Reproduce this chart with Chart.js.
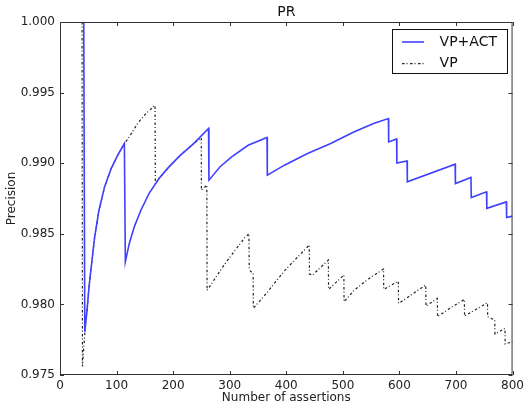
<!DOCTYPE html>
<html><head><meta charset="utf-8">
<script src="https://cdn.jsdelivr.net/npm/chart.js@4/dist/chart.umd.min.js"></script>
<style>html,body{margin:0;padding:0;background:#fff;}#wrap{width:528px;height:414px;}</style>
</head><body><div id="wrap"><canvas id="c" width="528" height="414"></canvas></div>
<script>
const chartTitle = 'PR';
const xAxisTitle = 'Number of assertions';
const yAxisTitle = 'Precision';
const seriesNames = ['VP+ACT', 'VP'];
const xTicks = [0, 100, 200, 300, 400, 500, 600, 700, 800];
const yTicks = [0.975, 0.980, 0.985, 0.990, 0.995, 1.000];

// VP+ACT
const actX = [42, 43.8, 47.8, 51.3, 55.4, 61.3, 68.9, 78.8, 90.4, 102.1, 113.8, 115.5,
  122.5, 131.3, 143, 157.5, 175, 192.6, 213, 236.3, 262.6, 263.3,
  283, 303.4, 332.6, 366, 366.5, 396.8, 437.6, 478.5, 519.4, 554.3, 580.6, 581, 595, 595.5, 613.5, 614,
  698.5, 699, 726.5, 727, 754, 754.5, 789, 789.5, 800];
const actY = [1.0, 0.97806, 0.9796, 0.98125, 0.9827, 0.98479, 0.98667, 0.98832, 0.98962, 0.99057, 0.99139, 0.98302,
  0.98432, 0.98549, 0.98667, 0.98786, 0.98892, 0.98974, 0.99057, 0.99139, 0.99246, 0.9888,
  0.98975, 0.99045, 0.99127, 0.99182, 0.98915, 0.98986, 0.99069, 0.99139, 0.99221, 0.99281, 0.99316, 0.99151, 0.99172, 0.99002, 0.99016, 0.98868,
  0.98993, 0.98856, 0.98899, 0.98757, 0.98797, 0.98680, 0.98726, 0.98616, 0.98625];

// VP
const vpX = [39, 39.7, 44.3, 47.8, 51.3, 55.4, 61.3, 68.9, 78.8, 90.4, 102.1, 113.8, 122.5, 137, 151.7, 168, 168.5,
  175, 192.6, 213, 236.3, 249.7, 250, 259.6, 260,
  268.4, 283, 296.4, 312, 326.8, 334, 334.5, 341.4, 341.8, 364.7, 396.8, 420, 440.6, 441, 446.4, 474.4, 474.8, 501.8, 502.2,
  520, 545, 571.9, 572.3, 598.1, 598.5, 620, 646.5, 647, 667, 667.4, 690, 714.8, 715.2, 755.7, 756, 768.5, 769, 786.6, 787, 800];
const vpY = [1.0, 0.9756, 0.9782, 0.9796, 0.98125, 0.9827, 0.98479, 0.98667, 0.98832, 0.98962, 0.99057, 0.99139, 0.99186, 0.99281, 0.99351, 0.9941, 0.9885,
  0.98892, 0.98974, 0.99057, 0.99139, 0.9918, 0.98809, 0.98844, 0.9810,
  0.98149, 0.98238, 0.98314, 0.98396, 0.98474, 0.9850, 0.98243, 0.9822, 0.97972, 0.98078, 0.98238, 0.98335, 0.98420, 0.98215, 0.98208, 0.98314, 0.98106, 0.98208, 0.98019,
  0.9810, 0.9818, 0.98250, 0.98106, 0.98165, 0.98007, 0.98065, 0.98137, 0.97988, 0.98042, 0.97913, 0.97975, 0.98035, 0.97917, 0.98012, 0.97913, 0.97889, 0.97790, 0.97830, 0.97719, 0.97736];

const FONT = "'DejaVu Sans', sans-serif";
const toPts = (xs, ys) => xs.map((x, i) => ({x: x, y: ys[i]}));

const styles = [
  {color: '#4040ff', width: 1.6, dash: []},
  {color: '#222222', width: 1.2, dash: [2.5, 2, 1, 2.5]}
];

const framePlugin = {
  id: 'frame',
  afterDatasetsDraw(chart) {
    const ctx = chart.ctx, a = chart.chartArea;
    const xs = chart.scales.x, ys = chart.scales.y;
    ctx.save();
    ctx.strokeStyle = '#333';
    ctx.lineWidth = 1;
    ctx.strokeRect(a.left + 0.5, a.top + 0.5, a.right - a.left - 1, a.bottom - a.top - 1);
    ctx.beginPath();
    xTicks.forEach(v => {
      const px = Math.round(xs.getPixelForValue(v)) + 0.5;
      ctx.moveTo(px, a.bottom); ctx.lineTo(px, a.bottom - 4);
      ctx.moveTo(px, a.top); ctx.lineTo(px, a.top + 4);
    });
    yTicks.forEach(v => {
      const py = Math.round(ys.getPixelForValue(v)) + 0.5;
      ctx.moveTo(a.left, py); ctx.lineTo(a.left + 4, py);
      ctx.moveTo(a.right, py); ctx.lineTo(a.right - 4, py);
    });
    ctx.stroke();
    // title
    ctx.fillStyle = '#111';
    ctx.font = '14px ' + FONT;
    ctx.textAlign = 'center';
    ctx.textBaseline = 'middle';
    ctx.fillText(chartTitle, (a.left + a.right) / 2, 12);
    // legend
    const bw = 115, bh = 44;
    const bx = a.right - 6 - bw, by = a.top + 6.5;
    ctx.fillStyle = '#fff';
    ctx.fillRect(bx, by, bw, bh);
    ctx.strokeStyle = '#111';
    ctx.lineWidth = 1;
    ctx.strokeRect(Math.round(bx) + 0.5, Math.round(by) + 0.5, bw, bh);
    ctx.font = '14px ' + FONT;
    ctx.textAlign = 'left';
    seriesNames.forEach((name, i) => {
      const ly = by + 13.5 + i * 21.6;
      ctx.strokeStyle = styles[i].color;
      ctx.lineWidth = styles[i].width;
      ctx.setLineDash(styles[i].dash);
      ctx.beginPath();
      ctx.moveTo(bx + 10.5, ly); ctx.lineTo(bx + 32.5, ly);
      ctx.stroke();
      ctx.setLineDash([]);
      ctx.fillStyle = '#111';
      ctx.fillText(name, bx + 48, ly);
    });
    ctx.restore();
  }
};

new Chart(document.getElementById('c'), {
  type: 'line',
  data: {
    datasets: [
      {label: seriesNames[0], data: toPts(actX, actY), borderColor: styles[0].color, borderWidth: styles[0].width,
       pointRadius: 0, fill: false, tension: 0},
      {label: seriesNames[1], data: toPts(vpX, vpY), borderColor: styles[1].color, borderWidth: styles[1].width,
       borderDash: styles[1].dash, pointRadius: 0, fill: false, tension: 0}
    ]
  },
  options: {
    responsive: false,
    animation: false,
    devicePixelRatio: 1,
    layout: {padding: {top: 22, right: 11, left: 0, bottom: 0}},
    plugins: {legend: {display: false}, title: {display: false}, tooltip: {enabled: false}},
    scales: {
      x: {
        type: 'linear', min: 0, max: 800,
        afterBuildTicks: s => { s.ticks = xTicks.map(v => ({value: v})); },
        afterFit: s => { s.height = 39; },
        grid: {display: false, drawTicks: false},
        border: {display: false},
        ticks: {font: {family: FONT, size: 12}, color: '#222', padding: 4, maxRotation: 0,
                callback: v => String(v)},
        title: {display: true, text: xAxisTitle, font: {family: FONT, size: 12}, color: '#222',
                padding: {top: 0, bottom: 9}}
      },
      y: {
        type: 'linear', min: 0.975, max: 1.0,
        afterBuildTicks: s => { s.ticks = yTicks.map(v => ({value: v})); },
        afterFit: s => { s.width = 60; },
        grid: {display: false, drawTicks: false},
        border: {display: false},
        ticks: {font: {family: FONT, size: 12}, color: '#222', padding: 5,
                callback: v => Number(v).toFixed(3)},
        title: {display: true, text: yAxisTitle, font: {family: FONT, size: 12}, color: '#222',
                padding: {top: 5, bottom: 0}}
      }
    }
  },
  plugins: [framePlugin]
});
</script></body></html>
